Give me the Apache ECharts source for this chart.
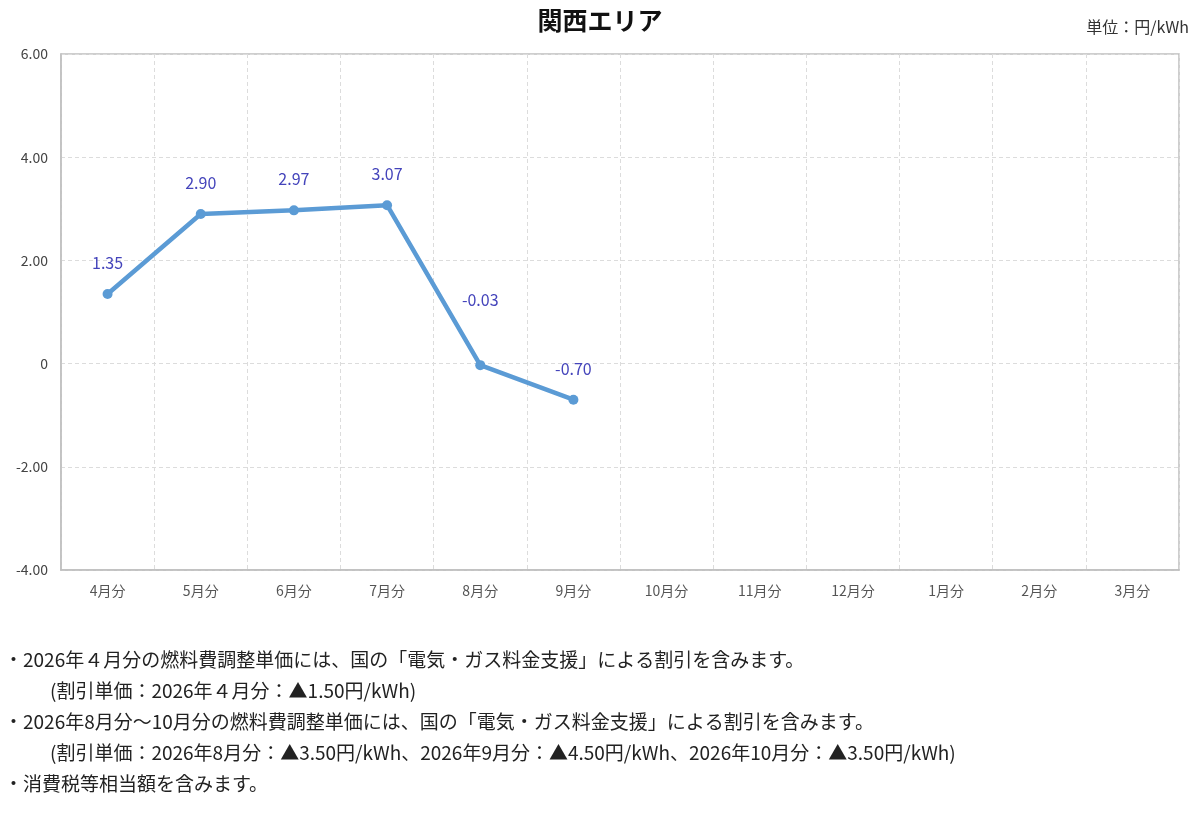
<!DOCTYPE html>
<html><head><meta charset="utf-8">
<script src="https://cdn.jsdelivr.net/npm/echarts@6/dist/echarts.min.js"></script>
<style>html,body{margin:0;padding:0;background:#fff}#c{width:1200px;height:820px}</style>
</head><body><div id="c"></div>
<script>
const categories = ['4月分','5月分','6月分','7月分','8月分','9月分','10月分','11月分','12月分','1月分','2月分','3月分'];
const values = [1.35, 2.90, 2.97, 3.07, -0.03, -0.70, null, null, null, null, null, null];
const yTicks = { min: -4, max: 6, interval: 2 };
const titleText = '関西エリア';
const unitText = '単位：円/kWh';
const notes = [
  '・2026年４月分の燃料費調整単価には、国の「電気・ガス料金支援」による割引を含みます。',
  '(割引単価：2026年４月分：▲1.50円/kWh)',
  '・2026年8月分～10月分の燃料費調整単価には、国の「電気・ガス料金支援」による割引を含みます。',
  '(割引単価：2026年8月分：▲3.50円/kWh、2026年9月分：▲4.50円/kWh、2026年10月分：▲3.50円/kWh)',
  '・消費税等相当額を含みます。'
];
const noteIndent = [false, true, false, true, false];
const FONT = '"Noto Sans CJK JP", "Noto Sans", sans-serif';
const chart = echarts.init(document.getElementById('c'));
const noteGraphics = notes.map((t, i) => ({
  type: 'text', left: noteIndent[i] ? 50 : 4, top: 650 + i * 31,
  style: { text: t, fontSize: 19, fill: '#222', fontFamily: FONT }
}));
const seriesData = values.map((v, i) => i === 4 ? { value: v, label: { distance: 52 } } : v);
chart.setOption({
  animation: false,
  backgroundColor: '#fff',
  title: { text: titleText, left: 'center', top: 3,
    textStyle: { fontSize: 25, fontWeight: 'bold', color: '#111', fontFamily: FONT } },
  graphic: [
    { type: 'text', right: 11, top: 19, style: { text: unitText, fontSize: 16, fill: '#333', fontFamily: FONT } },
    ...noteGraphics
  ],
  grid: { left: 61, right: 21, top: 54, height: 516, show: true, borderColor: '#bfbfbf', borderWidth: 1.5 },
  xAxis: {
    type: 'category', data: categories, boundaryGap: true,
    axisLine: { show: true, onZero: false, lineStyle: { color: '#bfbfbf', width: 1.5 } },
    axisTick: { show: false },
    axisLabel: { color: '#555', fontSize: 14, margin: 14, fontFamily: FONT, interval: 0 },
    splitLine: { show: true, interval: 0, lineStyle: { color: '#dcdcdc', type: [4, 3] } }
  },
  yAxis: {
    type: 'value', min: yTicks.min, max: yTicks.max, interval: yTicks.interval,
    axisLine: { show: true, lineStyle: { color: '#bfbfbf', width: 1.5 } },
    axisTick: { show: false },
    axisLabel: { color: '#444', fontSize: 14, margin: 13, fontFamily: FONT,
      formatter: v => v === 0 ? '0' : v.toFixed(2) },
    splitLine: { show: true, lineStyle: { color: '#dcdcdc', type: [4, 3] } }
  },
  series: [{
    type: 'line', data: seriesData, connectNulls: false,
    symbol: 'circle', symbolSize: 10,
    lineStyle: { color: '#5b9bd5', width: 4.5 },
    itemStyle: { color: '#5b9bd5' },
    label: { show: true, position: 'top', distance: 18, color: '#4444bb', fontSize: 16, fontFamily: FONT,
      formatter: p => p.value.toFixed(2) }
  }]
});
</script></body></html>
